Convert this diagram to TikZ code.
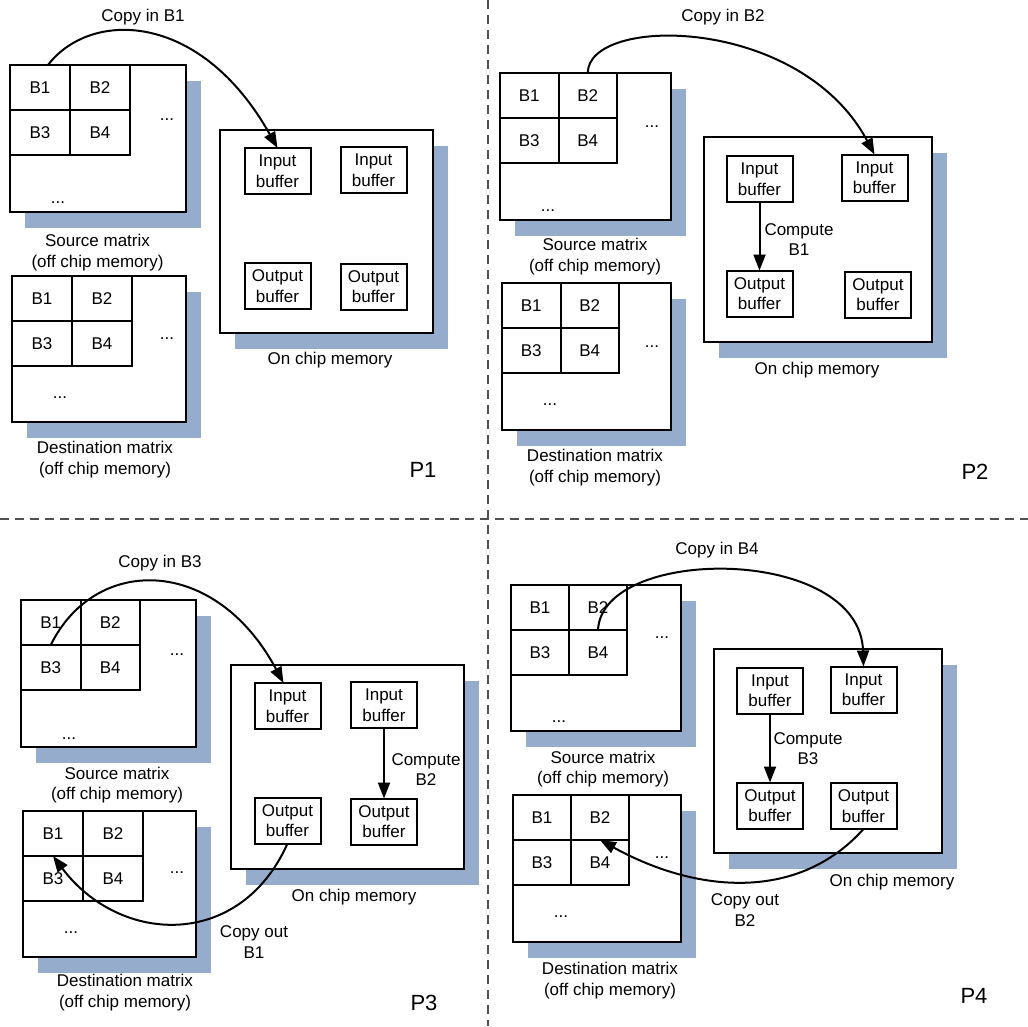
\documentclass[tikz,border=0pt]{standalone}
\usepackage{fontspec}
\setmainfont{Liberation Sans}
\usetikzlibrary{arrows.meta}

\definecolor{shadeblue}{RGB}{150,172,204}
\definecolor{divgray}{RGB}{80,80,80}

\tikzset{
  matframe/.style={draw, line width=2pt, fill=white, outer sep=0pt, inner sep=0pt},
  cell/.style={draw, line width=2pt, outer sep=0pt, inner sep=0pt,
    font=\fontsize{17}{20.5}\selectfont},
  buf/.style={draw, line width=2pt, fill=white, outer sep=0pt, inner sep=0pt,
    minimum width=66pt, minimum height=46pt, align=center,
    font=\fontsize{17}{20.5}\selectfont},
  lbl/.style={align=center, inner sep=0pt, font=\fontsize{17}{20.5}\selectfont},
  ellip/.style={inner sep=0pt, font=\fontsize{17}{20.5}\selectfont},
  plabel/.style={inner sep=0pt, font=\fontsize{22}{26}\selectfont},
  backdrop/.style={fill=shadeblue},
  flow/.style={line width=2pt, -{Triangle[length=16pt,width=12pt]}},
  divider/.style={draw=divgray, line width=1.3pt, dash pattern=on 9pt off 6pt},
}

% Matrix with its shadow and the 2x2 corner of blocks
% #1 name, #2-#5 frame corners, #6/#7 block size, #8/#9 offsets of the ellipses
\newcommand\MatBlock[9]{%
  \fill[backdrop] ({#2+15},{#3+16}) rectangle ({#4+15},{#5+16});
  \node[matframe, anchor=north west, minimum width={#4-#2}, minimum height={#5-#3}] (#1) at (#2,#3) {};
  \node[cell, anchor=north west, minimum width=#6, minimum height=#7] (#1-b1) at (#1.north west) {B1};
  \node[cell, anchor=north west, minimum width=#6, minimum height=#7] (#1-b2) at (#1-b1.north east) {B2};
  \node[cell, anchor=north west, minimum width=#6, minimum height=#7] (#1-b3) at (#1-b1.south west) {B3};
  \node[cell, anchor=north west, minimum width=#6, minimum height=#7] (#1-b4) at (#1-b1.south east) {B4};
  \node[ellip, anchor=base] (#1-dr) at ({#4-19},{#3+#8}) {...};
  \node[ellip, anchor=base] (#1-db) at ({#2+48},{#3+#9}) {...};
}

% On-chip memory frame with its shadow
\newcommand\ChipBlock[5]{%
  \fill[backdrop] ({#2+15},{#3+16}) rectangle ({#4+15},{#5+16});
  \node[matframe, anchor=north west, minimum width={#4-#2}, minimum height={#5-#3}] (#1) at (#2,#3) {};
}

\begin{document}
\begin{tikzpicture}[x=1pt,y=-1pt]
\useasboundingbox (0,0) rectangle (1028,1026);

% quadrant separators
\draw[divider] (0,519) -- (1028,519);
\draw[divider] (488,0) -- (488,1026);

% ---------------- P1 ----------------
\MatBlock{s1}{10}{65}{186}{212}{60}{45}{55}{138}
\MatBlock{d1}{12}{276}{186}{422}{60}{45}{63}{122}
\ChipBlock{c1}{220}{130}{433}{333}
\node[buf] (p1i1) at (277.5,171) {Input\\buffer};
\node[buf] (p1i2) at (373.5,170) {Input\\buffer};
\node[buf] (p1o1) at (277.5,286) {Output\\buffer};
\node[buf] (p1o2) at (373.5,286.5) {Output\\buffer};
\node[lbl] (p1copy) at (143,17) {Copy in B1};
\node[lbl] (p1src) at (97.5,252.5) {Source matrix\\(off chip memory)};
\node[lbl] (p1dst) at (105,459.5) {Destination matrix\\(off chip memory)};
\node[lbl] (p1chip) at (330,360) {On chip memory};
\node[plabel] (p1tag) at (423,470) {P1};
\draw[flow] ([xshift=8pt]s1-b1.north) .. controls (90,10) and (200,10) .. (p1i1.north);

% ---------------- P2 ----------------
\MatBlock{s2}{500}{73}{671}{220}{58.5}{45}{54}{138}
\MatBlock{d2}{502}{283}{671}{430}{58.5}{45}{64}{122}
\ChipBlock{c2}{704}{137}{932}{342}
\node[buf] (p2i1) at (759.5,179) {Input\\buffer};
\node[buf] (p2i2) at (874.5,177.5) {Input\\buffer};
\node[buf] (p2o1) at (759.5,293.5) {Output\\buffer};
\node[buf] (p2o2) at (878,294.5) {Output\\buffer};
\node[lbl] (p2copy) at (723,17) {Copy in B2};
\node[lbl] (p2src) at (595,256.5) {Source matrix\\(off chip memory)};
\node[lbl] (p2dst) at (595,467.5) {Destination matrix\\(off chip memory)};
\node[lbl] (p2chip) at (817,370) {On chip memory};
\node[lbl] (p2comp) at (799,239.5) {Compute\\B1};
\node[plabel] (p2tag) at (975,472) {P2};
\draw[flow] (s2-b2.north) .. controls (588,15) and (800,15) .. (p2i2.north);
\draw[flow] (p2i1.south) -- (p2o1.north);

% ---------------- P3 ----------------
\MatBlock{s3}{21}{600}{196}{747}{59.5}{45}{55}{139}
\MatBlock{d3}{23}{811}{196}{957}{60}{45}{62}{122}
\ChipBlock{c3}{231}{665}{464}{869}
\node[buf] (p3i1) at (287.5,706) {Input\\buffer};
\node[buf] (p3i2) at (384,705) {Input\\buffer};
\node[buf] (p3o1) at (287.5,820.5) {Output\\buffer};
\node[buf] (p3o2) at (384,821.5) {Output\\buffer};
\node[lbl] (p3copy) at (160,563) {Copy in B3};
\node[lbl] (p3src) at (117,785) {Source matrix\\(off chip memory)};
\node[lbl] (p3dst) at (125,992.5) {Destination matrix\\(off chip memory)};
\node[lbl] (p3chip) at (354,897) {On chip memory};
\node[lbl] (p3comp) at (426,769.5) {Compute\\B2};
\node[lbl] (p3out) at (254,942) {Copy out\\B1};
\node[plabel] (p3tag) at (424,1003) {P3};
\draw[flow] (s3-b3.north) .. controls (95,555) and (215,555) .. ([xshift=-4pt]p3i1.north);
\draw[flow] (p3i2.south) -- (p3o2.north);
\draw[flow] (p3o1.south) .. controls (240,950) and (120,945) .. (d3-b3.north);

% ---------------- P4 ----------------
\MatBlock{s4}{511}{585}{681}{731}{58}{45}{53}{137}
\MatBlock{d4}{513}{795}{681}{942}{58}{45}{63}{122}
\ChipBlock{c4}{714}{649}{942}{853}
\node[buf] (p4i1) at (770,690.5) {Input\\buffer};
\node[buf] (p4i2) at (863.5,689.5) {Input\\buffer};
\node[buf] (p4o1) at (770,805.5) {Output\\buffer};
\node[buf] (p4o2) at (863.5,806) {Output\\buffer};
\node[lbl] (p4copy) at (717,550) {Copy in B4};
\node[lbl] (p4src) at (603,769) {Source matrix\\(off chip memory)};
\node[lbl] (p4dst) at (610,980.5) {Destination matrix\\(off chip memory)};
\node[lbl] (p4chip) at (892,882) {On chip memory};
\node[lbl] (p4comp) at (808,748.5) {Compute\\B3};
\node[lbl] (p4out) at (745,910) {Copy out\\B2};
\node[plabel] (p4tag) at (974,996) {P4};
\draw[flow] (s4-b4.north) .. controls (602,545) and (860,545) .. (p4i2.north);
\draw[flow] (p4i1.south) -- (p4o1.north);
\draw[flow] (p4o2.south) .. controls (800,900) and (700,895) .. (d4-b4.north);

\end{tikzpicture}
\end{document}
